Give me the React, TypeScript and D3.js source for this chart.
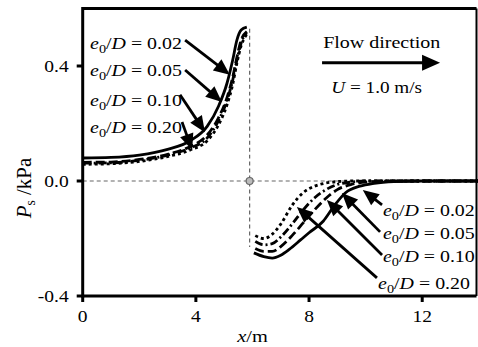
import React from "react";
import * as d3 from "d3";

// Surface pressure along the seabed for four gap ratios e0/D
const upX = [0, 1, 2, 3, 3.8, 4.4, 4.8, 5.1, 5.3, 5.45, 5.6, 5.8];
const upY002 = [0.08, 0.082, 0.09, 0.11, 0.14, 0.19, 0.26, 0.34, 0.42, 0.49, 0.525, 0.535];
const upY005 = [0.065, 0.066, 0.075, 0.093, 0.12, 0.16, 0.22, 0.29, 0.36, 0.43, 0.49, 0.52];
const upY010 = [0.062, 0.063, 0.072, 0.09, 0.115, 0.15, 0.21, 0.28, 0.35, 0.42, 0.48, 0.515];
const upY020 = [0.058, 0.06, 0.068, 0.085, 0.108, 0.14, 0.195, 0.265, 0.335, 0.41, 0.47, 0.51];

const dnX002 = [6.05, 6.4, 6.7, 7.0, 7.3, 7.7, 8.0, 8.5, 8.9, 9.3, 9.8, 10.3, 11, 12, 14];
const dnY002 = [-0.25, -0.263, -0.268, -0.258, -0.238, -0.205, -0.18, -0.14, -0.085, -0.04, -0.018, -0.008, -0.002, 0, 0];
const dnX = [6.1, 6.4, 6.7, 7.0, 7.4, 7.8, 8.2, 8.6, 9.0, 9.5, 10, 11, 12, 14];
const dnY005 = [-0.235, -0.245, -0.245, -0.228, -0.19, -0.145, -0.1, -0.06, -0.03, -0.012, -0.004, 0, 0, 0];
const dnY010 = [-0.21, -0.222, -0.218, -0.195, -0.15, -0.1, -0.058, -0.03, -0.012, -0.004, 0, 0, 0, 0];
const dnY020 = [-0.19, -0.2, -0.185, -0.15, -0.085, -0.04, -0.018, -0.007, -0.002, 0, 0, 0, 0, 0];

const ratios = ["0.02", "0.05", "0.10", "0.20"];
const dashes = ["none", "9,4", "8,3,2,3", "3,3"];
const upSeries = [upY002, upY005, upY010, upY020];
const dnSeriesX = [dnX002, dnX, dnX, dnX];
const dnSeries = [dnY002, dnY005, dnY010, dnY020];

const xTicks = [0, 4, 8, 12];
const yTicks = [-0.4, 0.0, 0.4];

// Annotation anchors in data units: [label x, label baseline y, arrow start x, y, arrow tip x, y]
const leftNotes = [
  [0.26, 0.459, 3.62, 0.49, 5.2, 0.37],
  [0.26, 0.365, 3.62, 0.386, 4.92, 0.275],
  [0.26, 0.261, 3.44, 0.3, 4.32, 0.17],
  [0.26, 0.167, 3.51, 0.205, 3.87, 0.108],
];
const rightNotes = [
  [10.61, -0.122, 10.58, -0.083, 9.9, -0.031],
  [10.61, -0.202, 10.51, -0.177, 9.16, -0.042],
  [10.61, -0.282, 10.58, -0.257, 8.63, -0.066],
  [10.44, -0.376, 10.4, -0.337, 7.57, -0.09],
];

const stagnationX = 5.9;
const stagnationTop = 0.53;
const stagnationBottom = -0.23;

const W = 478;
const H = 347;
const FONT = "Liberation Serif, DejaVu Serif, serif";

const x = d3.scaleLinear().domain([0, 14]).range([82.7, 478.8]);
const y = d3.scaleLinear().domain([-0.4, 0.6]).range([296, 8.5]);
const frameRight = 476.5;

const line = d3
  .line<[number, number]>()
  .x((d) => x(d[0]))
  .y((d) => y(d[1]))
  .curve(d3.curveMonotoneX);

function SText(props: {
  x: number;
  y: number;
  size: number;
  sx?: number;
  anchor?: string;
  children: React.ReactNode;
}) {
  const sx = props.sx ?? 1.2;
  return (
    <g transform={`translate(${props.x},${props.y}) scale(${sx},1)`}>
      <text
        textAnchor={props.anchor ?? "start"}
        style={{ fontFamily: FONT, fontSize: props.size }}
        fill="#000"
      >
        {props.children}
      </text>
    </g>
  );
}

function RatioLabel({ value }: { value: string }) {
  return (
    <>
      <tspan fontStyle="italic">e</tspan>
      <tspan dy={4} fontSize="0.72em">0</tspan>
      <tspan dy={-4}>/</tspan>
      <tspan fontStyle="italic">D</tspan>
      <tspan>{` = ${value}`}</tspan>
    </>
  );
}

function Arrow({ x0, y0, x1, y1, len = 16, hw = 7, w = 2.8 }: any) {
  const dx = x1 - x0;
  const dy = y1 - y0;
  const d = Math.hypot(dx, dy);
  const ux = dx / d;
  const uy = dy / d;
  const bx = x1 - ux * len;
  const by = y1 - uy * len;
  const pts = [
    [x1, y1],
    [bx - uy * hw, by + ux * hw],
    [bx + uy * hw, by - ux * hw],
  ]
    .map((p) => p.join(","))
    .join(" ");
  return (
    <g>
      <line x1={x0} y1={y0} x2={bx + ux * 1} y2={by + uy * 1} stroke="#000" strokeWidth={w} />
      <polygon points={pts} fill="#000" />
    </g>
  );
}

export default function App() {
  const top = y(0.6);
  const bottom = y(-0.4);
  const left = x(0);
  return (
    <svg
      width={W}
      height={H}
      style={{ position: "absolute", left: 0, top: 0, background: "#fff" }}
    >
      {/* reference lines through the stagnation point */}
      <line
        x1={x(0)}
        x2={frameRight}
        y1={y(0)}
        y2={y(0)}
        stroke="#666"
        strokeWidth={1.2}
        strokeDasharray="4,3"
      />
      <line
        x1={x(stagnationX)}
        x2={x(stagnationX)}
        y1={y(stagnationTop)}
        y2={y(stagnationBottom)}
        stroke="#666"
        strokeWidth={1.2}
        strokeDasharray="4,3"
      />
      <circle cx={x(stagnationX)} cy={y(0)} r={3.5} fill="#bbb" stroke="#666" strokeWidth={1.2} />

      {/* pressure curves */}
      {ratios.map((r, i) => (
        <g key={r} fill="none" stroke="#000" strokeWidth={2.8} strokeDasharray={dashes[i]}>
          <path d={line(upX.map((v, j) => [v, upSeries[i][j]]) as any) || ""} />
          <path d={line(dnSeriesX[i].map((v, j) => [v, dnSeries[i][j]]) as any) || ""} />
        </g>
      ))}

      {/* frame */}
      <line x1={left} x2={frameRight} y1={top} y2={top} stroke="#000" strokeWidth={3} />
      <line x1={frameRight} x2={frameRight} y1={top} y2={bottom} stroke="#000" strokeWidth={2} />
      <line x1={left} x2={frameRight} y1={bottom} y2={bottom} stroke="#000" strokeWidth={3} />
      <line x1={left} x2={left} y1={top - 1.5} y2={bottom + 1.5} stroke="#000" strokeWidth={3} />

      {/* y axis */}
      {yTicks.map((t) => (
        <g key={t}>
          <line x1={left - 6} x2={left} y1={y(t)} y2={y(t)} stroke="#000" strokeWidth={3} />
          <SText x={left - 14} y={y(t) + 5.5} size={16} sx={1.22} anchor="end">
            {t.toFixed(1)}
          </SText>
        </g>
      ))}
      {/* x axis */}
      {xTicks.map((t) => (
        <g key={t}>
          <line x1={x(t)} x2={x(t)} y1={bottom} y2={bottom + 6} stroke="#000" strokeWidth={3} />
          <SText x={x(t)} y={bottom + 26} size={16} sx={1.22} anchor="middle">
            {t}
          </SText>
        </g>
      ))}

      <SText x={x(6)} y={H - 5} size={17} sx={1.2} anchor="middle">
        <tspan fontStyle="italic">x</tspan>
        <tspan>/m</tspan>
      </SText>
      <g transform={`translate(31,188) rotate(-90)`}>
        <text textAnchor="middle" style={{ fontFamily: FONT, fontSize: 21 }}>
          <tspan fontStyle="italic">P</tspan>
          <tspan dy={4} fontSize="0.65em">s</tspan>
          <tspan dy={-4}> /kPa</tspan>
        </text>
      </g>

      {/* flow direction */}
      <SText x={x(10.57)} y={y(0.463)} size={16} sx={1.25} anchor="middle">
        Flow direction
      </SText>
      <Arrow x0={x(8.46)} y0={y(0.411)} x1={x(12.63)} y1={y(0.411)} len={18} hw={8} w={3} />
      <SText x={x(10.39)} y={y(0.306)} size={16} sx={1.2} anchor="middle">
        <tspan fontStyle="italic">U</tspan>
        <tspan> = 1.0 m/s</tspan>
      </SText>

      {/* gap-ratio annotations */}
      {leftNotes.map((n, i) => (
        <g key={"l" + i}>
          <SText x={x(n[0])} y={y(n[1])} size={17} sx={1.17}>
            <RatioLabel value={ratios[i]} />
          </SText>
          <Arrow x0={x(n[2])} y0={y(n[3])} x1={x(n[4])} y1={y(n[5])} />
        </g>
      ))}
      {rightNotes.map((n, i) => (
        <g key={"r" + i}>
          <SText x={x(n[0])} y={y(n[1])} size={17} sx={1.17}>
            <RatioLabel value={ratios[i]} />
          </SText>
          <Arrow x0={x(n[2])} y0={y(n[3])} x1={x(n[4])} y1={y(n[5])} />
        </g>
      ))}
    </svg>
  );
}
